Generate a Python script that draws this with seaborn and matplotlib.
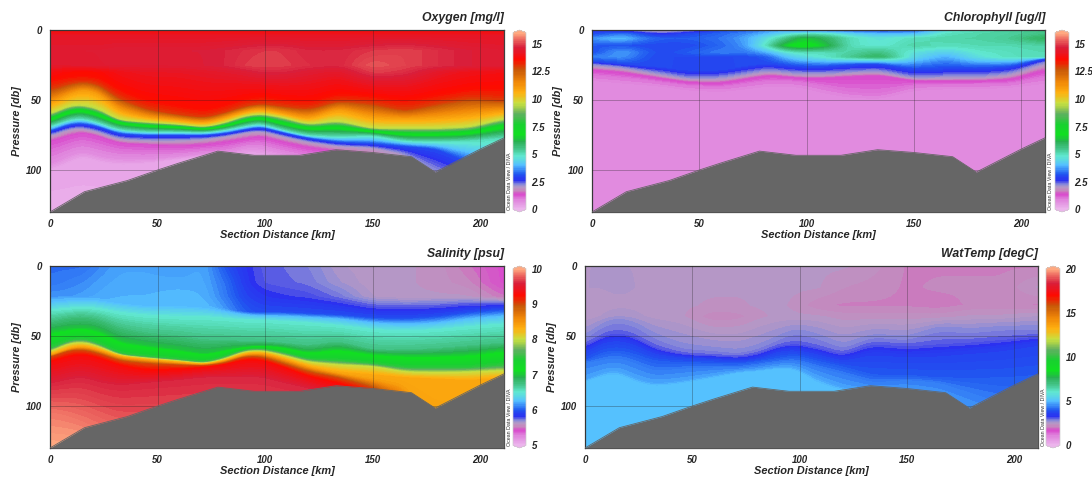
import numpy as np
import matplotlib
matplotlib.use("Agg")
import matplotlib.pyplot as plt
import seaborn as sns

W, H = 1092, 478
stations = [0, 8, 15, 23, 32, 45, 60, 72, 82, 90, 98, 108, 120, 134, 150, 165, 180, 195, 211]
floor_km = [0, 16, 36, 50, 60, 78, 95, 116, 133, 150, 168, 179, 200, 211]
floor_db = [130, 115.5, 107.5, 100, 95, 86.5, 89.5, 89.5, 85.5, 87.5, 90.5, 101.5, 85, 77]

# --- Oxygen: (depth, value) rows
oxy_r0 = [13.6] * 19
oxy_r4 = [14.2] * 19
oxy_r15 = [14.5, 14.5, 14.5, 14.5, 14.6, 14.6, 14.6, 14.6, 14.7, 14.8, 14.9, 14.9, 14.7, 14.7, 14.9, 15.0, 14.8, 14.6, 14.5]
oxy_r25 = [14.4, 14.4, 14.4, 14.5, 14.5, 14.5, 14.5, 14.6, 14.7, 14.9, 15.0, 14.95, 14.8, 14.7, 15.2, 15.0, 14.8, 14.6, 14.5]
oxy_r30 = [13.9, 13.6, 13.5, 13.6, 14.0, 14.2, 14.2, 14.3, 14.4, 14.5, 14.7, 14.7, 14.5, 14.3, 14.95, 14.8, 14.3, 14.0, 13.9]
oxy_135 = [36, 33, 32.5, 33, 42, 50, 54, 57, 53, 49, 47, 49, 51, 45, 47, 50, 46, 42, 42]
oxy_130 = [42, 38, 36, 38, 48, 56, 60, 62, 58, 54, 52, 54, 56, 50, 52, 57, 52, 48, 50]
oxy_110 = [52, 46, 42, 45, 57, 62, 64, 66, 62, 58, 56, 59, 63, 56, 62, 63, 62, 60, 57]
oxy_095 = [60, 54, 53, 56, 64, 65.5, 67, 69, 65.5, 61, 59.5, 62, 67, 64.5, 70, 70, 70, 69, 63]
oxy_070 = [64, 58, 56.5, 60, 66, 68, 69, 70.5, 68, 64, 62, 66, 70, 69, 72, 74, 74, 73, 68]
oxy_050 = [69, 64, 62.5, 66, 71, 72.5, 72.5, 73, 71, 68.5, 66.5, 71, 75, 76, 75, 79, 79.5, 79, 77]
oxy_030 = [72.5, 67.5, 66.5, 69, 74, 75, 75, 75, 73.5, 71, 69, 73, 77, 80, 81, 83, 85, 95, 110]
oxy_020 = [76, 71, 70, 73, 78, 79, 79, 78, 76, 73.5, 72, 76, 80, 83, 84, 89, 105, 115, 120]
oxy_013 = [80, 76, 73, 76, 81, 82, 83, 82, 80, 78, 76, 80, 84, 87, 90, 105, 125, 128, 129]
oxy_007 = [96, 90, 86, 90, 92, 92, 90, 88, 88, 84, 84, 88, 92, 95, 100, 115, 127, 129, 129.5]
oxy_003 = [100, 95, 90, 94, 96, 95, 92, 90, 90, 88, 88, 92, 96, 100, 105, 120, 128, 129.5, 129.8]

# --- Chlorophyll
chl_r0 = [2.6, 2.4, 2.3, 1.8, 1.5, 2.0, 3.0, 3.2, 3.5, 3.6, 3.0, 3.0, 3.0, 2.8, 3.0, 4.5, 5.0, 5.3, 5.5]
chl_r3 = [3.0, 3.3, 3.5, 3.0, 2.6, 3.0, 3.3, 3.6, 4.0, 4.5, 5.0, 5.0, 4.3, 4.0, 4.0, 5.0, 5.2, 5.3, 5.6]
chl_r6 = [3.6, 3.9, 4.0, 3.5, 3.2, 3.2, 3.4, 3.8, 4.6, 5.4, 6.5, 6.0, 5.0, 4.6, 5.0, 5.2, 5.2, 5.4, 6.0]
chl_r11 = [3.2, 3.1, 3.1, 3.0, 3.0, 3.0, 3.3, 3.7, 5.0, 6.6, 7.0, 6.5, 5.0, 4.7, 5.2, 5.0, 5.1, 5.1, 5.2]
chl_r16 = [3.0, 3.5, 3.8, 3.3, 3.0, 3.2, 3.5, 3.4, 3.8, 4.6, 5.0, 5.0, 5.2, 5.6, 4.6, 4.2, 4.8, 5.0, 5.1]
chl_r19 = [3.5, 3.6, 3.7, 3.2, 3.0, 3.0, 3.0, 3.0, 3.2, 4.0, 4.5, 4.8, 5.4, 6.0, 4.4, 3.8, 4.6, 5.0, 5.0]
chl_030 = [22, 23, 24, 25, 26, 28, 28, 25, 23.5, 25, 26, 26, 24.5, 24, 28, 27, 27, 26, 20]
chl_023 = [24, 25, 26, 28, 30, 33.5, 33, 30, 27.5, 29, 30, 30, 29, 28, 33, 32, 32, 30, 22]
chl_020 = [25.5, 26.5, 27.5, 29.5, 32, 35, 35, 32, 29.5, 31, 32, 32, 30.5, 30, 34.5, 34, 34, 32, 24]
chl_014 = [28, 29, 30, 32, 34, 37, 37.5, 34.5, 32, 33, 34, 34, 33, 32, 36, 36, 36, 35, 28]
chl_010 = [32, 33, 34, 35, 37, 39.5, 40.5, 38, 36, 36, 37, 40, 44, 45, 39, 38.5, 38.5, 38, 33]
chl_008 = [36, 37, 38, 39, 40, 43, 44, 42, 40, 40, 41, 45, 48, 49, 43, 42, 42, 41, 38]

# --- Salinity
sal_r0 = [6.05, 6.05, 6.05, 6.12, 6.18, 6.18, 6.15, 6.2, 5.95, 5.85, 5.77, 5.75, 5.72, 5.63, 5.6, 5.6, 5.58, 5.5, 5.42]
sal_r12 = [6.07, 6.1, 6.12, 6.17, 6.2, 6.2, 6.2, 6.2, 6.05, 5.87, 5.78, 5.76, 5.74, 5.66, 5.6, 5.6, 5.58, 5.54, 5.42]
sal_r22 = [6.15, 6.15, 6.17, 6.2, 6.22, 6.22, 6.24, 6.22, 6.08, 5.92, 5.85, 5.82, 5.8, 5.74, 5.62, 5.6, 5.6, 5.6, 5.5]
sal_band = [6.22, 6.21, 6.2, 6.21, 6.23, 6.23, 6.24, 6.24, 6.15, 6.0, 5.95, 5.95, 5.95, 5.95, 5.95, 5.95, 5.95, 5.95, 5.95]
sal_band_d = [24, 23, 22.5, 23, 25, 27, 27, 28, 31, 33, 33, 33, 34, 35, 37, 37.5, 36, 33, 31]
sal_625 = [26, 25, 24, 25, 27, 29, 29, 30, 33, 35, 36, 36, 37, 38, 41, 42, 41, 38, 36]
sal_650 = [32, 31, 30, 31, 34, 36, 37, 37, 38, 39, 39, 40, 41, 43, 46, 47, 46, 44, 42]
sal_675 = [40, 37, 36, 38, 44, 48, 50, 53, 53, 54, 54, 55, 57, 54, 60, 60, 59, 57, 55]
sal_700 = [47, 45, 44, 46, 54, 57, 60, 63, 60, 58, 57, 58, 62, 59, 63, 64, 64, 63, 60]
sal_750 = [60, 54, 52, 56, 63, 65, 67, 69, 65, 60, 59, 62, 67, 68, 70, 73, 73, 73, 71]
sal_800 = [62, 56, 54.5, 58, 64, 66, 68, 70, 66.5, 61.5, 60.5, 64, 69, 71, 72, 76, 76.5, 76, 75]
sal_835 = [64, 59, 57, 60, 65, 67, 69, 70.5, 67.5, 63, 62, 66, 72, 76, 78, 80, 81, 82, 80]
sal_842 = [64.5, 59.5, 57.5, 60.5, 65.5, 67.5, 69.5, 70.8, 67.8, 63.5, 62.5, 66.5, 72.5, 77, 81, 86, 126, 127.5, 128]
sal_900 = [66, 61, 60, 63, 68, 70, 71, 71.5, 69.5, 65, 65, 70, 76, 80, 87, 100, 128, 129, 129.5]
sal_930 = [70, 66, 64, 67, 72, 76, 75, 73, 71, 68, 68, 73, 80, 85, 92, 110, 128.5, 129.3, 129.6]
sal_960 = [85, 82, 80, 84, 86, 84, 82, 80, 80, 80, 80, 84, 88, 95, 105, 118, 129, 129.5, 129.7]
sal_985 = [105, 108, 112, 118, 125, 127, 128, 128, 128, 128, 128, 128, 128, 128, 128, 128, 129.5, 129.7, 129.9]

# --- Water temperature
tmp_r0 = [2.5, 2.5, 2.5, 2.5, 2.45, 2.4, 2.4, 2.4, 2.4, 2.4, 2.4, 2.4, 2.4, 2.3, 2.1, 2.1, 2.1, 2.1, 2.1]
tmp_r15 = [2.5, 2.5, 2.55, 2.5, 2.45, 2.4, 2.4, 2.4, 2.4, 2.4, 2.4, 2.4, 2.25, 2.2, 2.1, 2.15, 2.15, 2.15, 2.4]
tmp_r28 = [2.4, 2.4, 2.45, 2.45, 2.4, 2.4, 2.35, 2.35, 2.4, 2.4, 2.35, 2.15, 2.1, 2.1, 2.1, 2.05, 2.15, 2.15, 2.1]
tmp_r36 = [2.4, 2.5, 2.65, 2.55, 2.45, 2.4, 2.15, 2.2, 2.35, 2.4, 2.4, 2.4, 2.3, 2.3, 2.3, 2.3, 2.4, 2.4, 2.5]
tmp_280 = [52, 42, 38, 41, 50, 58, 60, 62, 58, 52, 46, 50, 58, 50, 52, 44, 46, 44, 44]
tmp_305 = [57, 50, 47, 50, 58, 63, 64, 65, 62, 57, 55, 58, 63, 55, 57, 55, 54, 52, 50]
tmp_360 = [62, 55, 53, 56, 63, 65.5, 66.5, 68, 66, 61, 60, 63, 68, 63, 65, 64, 62, 60, 56]
tmp_400 = [68, 62, 60, 63, 68, 69, 69.5, 70, 68, 66, 64, 68, 72, 78, 78, 80, 80, 80, 78]
tmp_440 = [70, 68, 66, 70, 76, 74, 73, 73, 71, 69, 68, 73, 78, 84, 82, 84, 92, 100, 110]
tmp_470 = [82, 76, 74, 80, 84, 82, 78, 75, 74, 72, 72, 80, 87, 90, 90, 95, 105, 115, 125]
tmp_510 = [84, 80, 78, 84, 87, 85, 81, 77, 76, 74, 75, 85, 90, 95, 100, 110, 115, 125, 128]

oxy_layers = [(0, oxy_r0), (4, oxy_r4), (15, oxy_r15), (25, oxy_r25), (30, oxy_r30), (oxy_135, 13.5),
              (oxy_130, 13.0), (oxy_110, 11.0), (oxy_095, 9.5), (oxy_070, 7.0), (oxy_050, 5.0), (oxy_030, 3.0),
              (oxy_020, 2.0), (oxy_013, 1.3), (oxy_007, 0.7), (oxy_003, 0.3), (130, 0.1)]
chl_layers = [(0, chl_r0), (3, chl_r3), (6, chl_r6), (11, chl_r11), (16, chl_r16), (19, chl_r19), (chl_030, 3.0),
              (chl_023, 2.3), (chl_020, 2.0), (chl_014, 1.4), (chl_010, 1.0), (chl_008, 0.8), (130, 0.8)]
sal_layers = [(0, sal_r0), (12, sal_r12), (22, sal_r22), (sal_band_d, sal_band), (sal_625, 6.25), (sal_650, 6.5),
              (sal_675, 6.75), (sal_700, 7.0), (sal_750, 7.5), (sal_800, 8.0), (sal_835, 8.35), (sal_842, 8.42),
              (sal_900, 9.0), (sal_930, 9.3), (sal_960, 9.6), (sal_985, 9.85), (130, 10.0)]
tmp_layers = [(0, tmp_r0), (15, tmp_r15), (28, tmp_r28), (36, tmp_r36), (tmp_280, 2.8), (tmp_305, 3.05), (tmp_360, 3.6),
              (tmp_400, 4.0), (tmp_440, 4.4), (tmp_470, 4.7), (tmp_510, 5.1), (130, 5.1)]

titles = ["Oxygen [mg/l]", "Chlorophyll [ug/l]", "Salinity [psu]", "WatTemp [degC]"]
ranges = [(0, 16), (0, 16), (5, 10), (0, 20)]
bar_ticks = [[0, 2.5, 5, 7.5, 10, 12.5, 15], [0, 2.5, 5, 7.5, 10, 12.5, 15], [5, 6, 7, 8, 9, 10], [0, 5, 10, 15, 20]]
bar_labels = [["0", "2.5", "5", "7.5", "10", "12.5", "15"], ["0", "2.5", "5", "7.5", "10", "12.5", "15"],
              ["5", "6", "7", "8", "9", "10"], ["0", "5", "10", "15", "20"]]
all_layers = [oxy_layers, chl_layers, sal_layers, tmp_layers]

sns.set_theme(style="white", font="Liberation Sans")
plt.rcParams["font.family"] = ["Liberation Sans", "DejaVu Sans"]

stops = [(0.0, "#ecb4ec"), (0.05, "#e088de"), (0.085, "#d848cc"), (0.105, "#c884bc"), (0.12, "#b898c4"), (0.14, "#8c8cd8"),
         (0.165, "#2a30f0"), (0.20, "#2058f0"), (0.25, "#55c0ff"), (0.30, "#60e8d0"), (0.35, "#40c080"), (0.385, "#28b050"),
         (0.42, "#10e020"), (0.48, "#18d030"), (0.54, "#60b060"), (0.60, "#c8e040"), (0.66, "#ffb010"), (0.72, "#f08808"),
         (0.79, "#c85808"), (0.85, "#ff0800"), (0.92, "#d81f3c"), (1.0, "#ffa880")]
fine = np.linspace(0, 1, 201)
rgb = np.array([matplotlib.colors.to_rgb(c) for _, c in stops])
pos = [p for p, _ in stops]
samples = np.stack([np.interp(fine, pos, rgb[:, i]) for i in range(3)], axis=1)
ocean = sns.blend_palette([tuple(s) for s in samples], n_colors=256, as_cmap=True)

fig = plt.figure(figsize=(W / 100, H / 100), dpi=100, facecolor="white")


def rect(x0, y0, x1, y1):
    return [x0 / W, 1 - y1 / H, (x1 - x0) / W, (y1 - y0) / H]


# the section is gridded on a 1 km rendering grid with a short running mean, as the gridded source field is smooth
grid_km = np.arange(0, 212, 1.0)
kernel = np.array([1, 2, 3, 4, 5, 6, 7, 6, 5, 4, 3, 2, 1], dtype=float)
kernel /= kernel.sum()


def regrid(row):
    line = np.interp(grid_km, stations, row)
    pad = len(kernel) // 2
    padded = np.pad(line, pad, mode="edge")
    return np.convolve(padded, kernel, mode="valid")


boxes = [(50, 30, 504, 212), (592, 30, 1045, 212), (50, 266, 504, 448), (585, 266, 1038, 448)]
bars = [(513, 526), (1055, 1069), (513, 526), (1046, 1060)]
ylabx = [17, 558, 17, 552]
txt = "#262626"
fp = dict(fontweight="bold", fontstyle="italic", color=txt)

for i in range(4):
    x0, y0, x1, y1 = boxes[i]
    ax = fig.add_axes(rect(x0, y0, x1, y1))
    n = len(stations)
    Y = np.array([np.broadcast_to(d, (n,)) for d, _ in all_layers[i]], dtype=float)
    Z = np.array([np.broadcast_to(v, (n,)) for _, v in all_layers[i]], dtype=float)
    Y = np.maximum.accumulate(Y, axis=0)
    Yg = np.array([regrid(r) for r in Y])
    Zg = np.array([regrid(r) for r in Z])
    X = np.tile(grid_km, (Yg.shape[0], 1))
    vmin, vmax = ranges[i]
    levels = np.linspace(vmin, vmax, 161)
    cf = ax.contourf(X, Yg, Zg, levels=levels, cmap=ocean, vmin=vmin, vmax=vmax, extend="both", antialiased=False)
    ax.fill_between(floor_km, floor_db, 130, color="#666666", lw=0, zorder=3)
    sns.lineplot(x=floor_km, y=floor_db, ax=ax, color="#666666", lw=0.6, zorder=3, estimator=None, sort=False)
    ax.set_xlim(0, 211)
    ax.set_ylim(130, 0)
    ax.set_xticks([0, 50, 100, 150, 200])
    ax.set_yticks([0, 50, 100])
    ax.grid(True, color="#202020", alpha=0.35, lw=0.6)
    ax.set_axisbelow(False)
    ax.tick_params(axis="x", length=0, pad=5)
    ax.tick_params(axis="y", length=0, pad=6)
    for lab in ax.get_xticklabels() + ax.get_yticklabels():
        lab.set(fontsize=7, **fp)
    for s in ax.spines.values():
        s.set(color="#404040", lw=0.9, visible=True)
    ax.set_xlabel("Section Distance [km]", fontsize=7.9, labelpad=0.5, **fp)
    ax.set_ylabel("")
    fig.text(ylabx[i] / W, 1 - (y0 + y1) / 2 / H, "Pressure [db]", rotation=90, ha="center", va="center", fontsize=7.8, **fp)
    fig.text(x1 / W, 1 - (y0 - 12) / H, titles[i], ha="right", va="center", fontsize=8.8, **fp)
    fig.text((x1 + 3) / W, 1 - (y1 - 2) / H, "Ocean Data View / DIVA", rotation=90, ha="left", va="bottom",
             fontsize=3.8, color="#303030")

    bx0, bx1 = bars[i]
    cax = fig.add_axes(rect(bx0, y0, bx1, y1))
    cb = fig.colorbar(cf, cax=cax, extend="both", extendfrac=0.015, drawedges=False)
    cb.set_ticks(bar_ticks[i])
    cb.set_ticklabels(bar_labels[i])
    cb.ax.tick_params(length=0, pad=4)
    for lab in cb.ax.get_yticklabels():
        lab.set(fontsize=7, **fp)
    cb.outline.set_edgecolor("#cccccc")
    cb.outline.set_linewidth(0.5)

fig.savefig("out.png", dpi=100)
